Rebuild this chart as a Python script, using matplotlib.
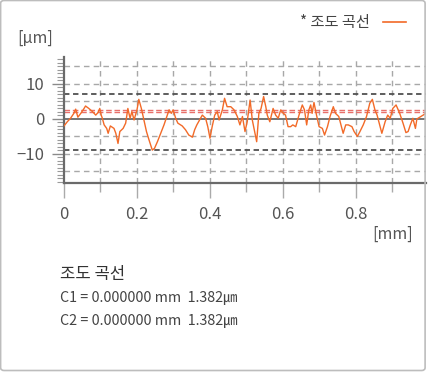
import numpy as np
import matplotlib.pyplot as plt
from matplotlib.patches import FancyBboxPatch

plt.rcParams['font.family'] = ['Noto Sans CJK KR', 'DejaVu Sans']

# roughness profile (x in mm, y in um)
x_mm = [0.000, 0.009, 0.018, 0.027, 0.032, 0.038, 0.046, 0.055, 0.059, 0.068,
        0.078, 0.087, 0.093, 0.098, 0.102, 0.105, 0.110, 0.117, 0.121, 0.127,
        0.137, 0.142, 0.148, 0.153, 0.162, 0.169, 0.175, 0.181, 0.186, 0.192,
        0.200, 0.205, 0.212, 0.219, 0.226, 0.233, 0.242, 0.248, 0.256, 0.265,
        0.274, 0.283, 0.288, 0.294, 0.299, 0.306, 0.312, 0.324, 0.333, 0.342,
        0.352, 0.358, 0.364, 0.374, 0.374, 0.379, 0.388, 0.394, 0.400, 0.406,
        0.413, 0.420, 0.425, 0.434, 0.440, 0.447, 0.457, 0.466, 0.475, 0.482,
        0.489, 0.496, 0.502, 0.510, 0.516, 0.528, 0.534, 0.540, 0.547, 0.553,
        0.557, 0.564, 0.573, 0.580, 0.587, 0.594, 0.601, 0.607, 0.614, 0.621,
        0.627, 0.635, 0.644, 0.653, 0.659, 0.665, 0.671, 0.676, 0.680, 0.685,
        0.692, 0.699, 0.708, 0.714, 0.722, 0.729, 0.738, 0.744, 0.753, 0.759,
        0.765, 0.772, 0.779, 0.789, 0.795, 0.804, 0.811, 0.820, 0.829, 0.838,
        0.845, 0.852, 0.858, 0.865, 0.871, 0.880, 0.887, 0.894, 0.901, 0.910,
        0.920, 0.929, 0.937, 0.943, 0.949, 0.956, 0.963, 0.967, 0.992]
y_um = [-2.0, -0.8, 0.2, 1.6, 2.8, 0.5, 1.6, 3.0, 3.7, 3.0,
        2.1, 1.1, 1.8, 3.0, 1.1, 0.2, -1.7, -2.7, -4.1, -2.0,
        -2.7, -4.1, -7.0, -3.6, -2.7, -1.2, 3.0, 0.2, 2.1, -0.3,
        2.6, 5.6, 3.0, -0.3, -3.6, -6.0, -8.9, -8.4, -6.5, -4.1,
        -1.7, 1.1, 2.6, 1.6, 2.6, 0.2, -1.2, -2.0, -3.1, -4.6,
        -5.2, -3.1, -1.7, 0.2, 0.2, 1.1, 0.2, -2.2, -5.5, -2.2,
        1.1, 2.1, -0.3, 2.6, 5.9, 3.5, 3.5, 2.6, 0.7, -1.7,
        0.7, -3.6, -0.8, 5.4, -0.3, -6.5, 1.6, 3.0, 6.4, 3.5,
        1.1, -0.8, 3.0, 1.1, 0.2, 2.6, 1.6, 1.1, -2.2, -2.2,
        -1.7, -2.2, 1.1, 4.0, 2.6, -1.7, 2.6, 4.0, 1.6, 4.7,
        1.1, -2.2, -2.7, -4.6, -2.2, 0.7, 3.5, 1.6, 0.7, -1.7,
        -4.1, -1.7, -1.7, -2.2, -3.6, -5.0, -3.6, -1.7, 0.7, 4.5,
        5.6, 2.6, 1.1, -1.7, -4.1, -0.8, 1.1, 0.2, 3.0, 4.0,
        1.6, -1.2, -3.9, -3.6, -1.7, 0.2, -2.7, 0.0, 1.6]

grid_y = [-15, -10, -5, 5, 10, 15]
limit_lines = [7.0, -8.9]
mean_lines = [2.6, 1.9]
x_ticks = [0, 0.2, 0.4, 0.6, 0.8]
x_tick_labels = ['0', '0.2', '0.4', '0.6', '0.8']
y_ticks = [-10, 0, 10]

W, H = 434, 372
fig = plt.figure(figsize=(W / 100, H / 100), dpi=100)
fig.patch.set_facecolor('white')

# card border
fig.patches.append(FancyBboxPatch((0.6 / W, 1.5 / H), 424.5 / W, 370 / H,
                                  boxstyle='round,pad=0,rounding_size=0.008',
                                  transform=fig.transFigure, fill=False,
                                  edgecolor='#bdbdbd', linewidth=1.2))

ax = fig.add_axes([64 / W, 1 - 183 / H, 362 / W, 126 / H])
ax.set_xlim(0, 0.992)
ax.set_ylim(-18.3, 17.7)

for gy in grid_y:
    ax.axhline(gy, color='#a8a8a8', lw=1, ls=(0, (4, 3)), zorder=1)
for gx in np.arange(0.1, 0.95, 0.1):
    ax.axvline(gx, color='#a8a8a8', lw=1, ls=(0, (4, 3)), zorder=1)
for ly in limit_lines:
    ax.axhline(ly, color='#505050', lw=1.3, ls=(0, (3, 2)), zorder=2)
for my in mean_lines:
    ax.axhline(my, color='#e8706a', lw=1, ls=(0, (4, 2)), zorder=2)
ax.axhline(0, color='#6a6a6a', lw=1.3, zorder=2)

ax.plot(x_mm, y_um, color='#f26a28', lw=1.0, zorder=3)

for side in ['top', 'right']:
    ax.spines[side].set_visible(False)
for side in ['left', 'bottom']:
    ax.spines[side].set_color('#6a6a6a')
    ax.spines[side].set_linewidth(1.6)

ax.set_xticks(x_ticks)
ax.set_xticklabels(x_tick_labels)
ax.set_xticks(np.arange(0.1, 0.95, 0.2), minor=True)
ax.set_yticks(y_ticks)
ax.set_yticks(np.arange(-18, 18, 1), minor=True)
ax.tick_params(axis='x', which='major', length=10.5, width=1, color='#aaaaaa',
               labelsize=12, labelcolor='#555555', pad=6)
ax.tick_params(axis='x', which='minor', length=6.5, width=1, color='#aaaaaa')
ax.tick_params(axis='y', which='major', length=9, width=1, color='#8a8a8a',
               labelsize=12, labelcolor='#555555', pad=5)
ax.tick_params(axis='y', which='minor', length=5, width=0.8, color='#9a9a9a')
for lab in ax.get_xticklabels() + ax.get_yticklabels():
    lab.set_family(['Noto Sans CJK KR', 'DejaVu Sans'])


def ftext(px, py, s, **kw):
    fig.text(px / W, 1 - py / H, s, **kw)


ftext(17, 38, '[μm]', fontsize=11.5, color='#555555', va='center', ha='left')
ftext(413, 234, '[mm]', fontsize=11.5, color='#555555', va='center', ha='right')
ftext(370, 22, '* 조도 곡선', fontsize=11, color='#444444', va='center', ha='right')
fig.add_artist(plt.Line2D([383 / W, 406 / W], [1 - 22 / H, 1 - 22 / H],
                          color='#f26a28', lw=1.2))

ftext(60, 275, '조도 곡선', fontsize=12, color='#333333', va='center', ha='left')
ftext(60, 298, 'C1 = 0.000000 mm  1.382㎛', fontsize=10.3, color='#444444',
      va='center', ha='left')
ftext(60, 321, 'C2 = 0.000000 mm  1.382㎛', fontsize=10.3, color='#444444',
      va='center', ha='left')

fig.savefig('out.png', dpi=100)
